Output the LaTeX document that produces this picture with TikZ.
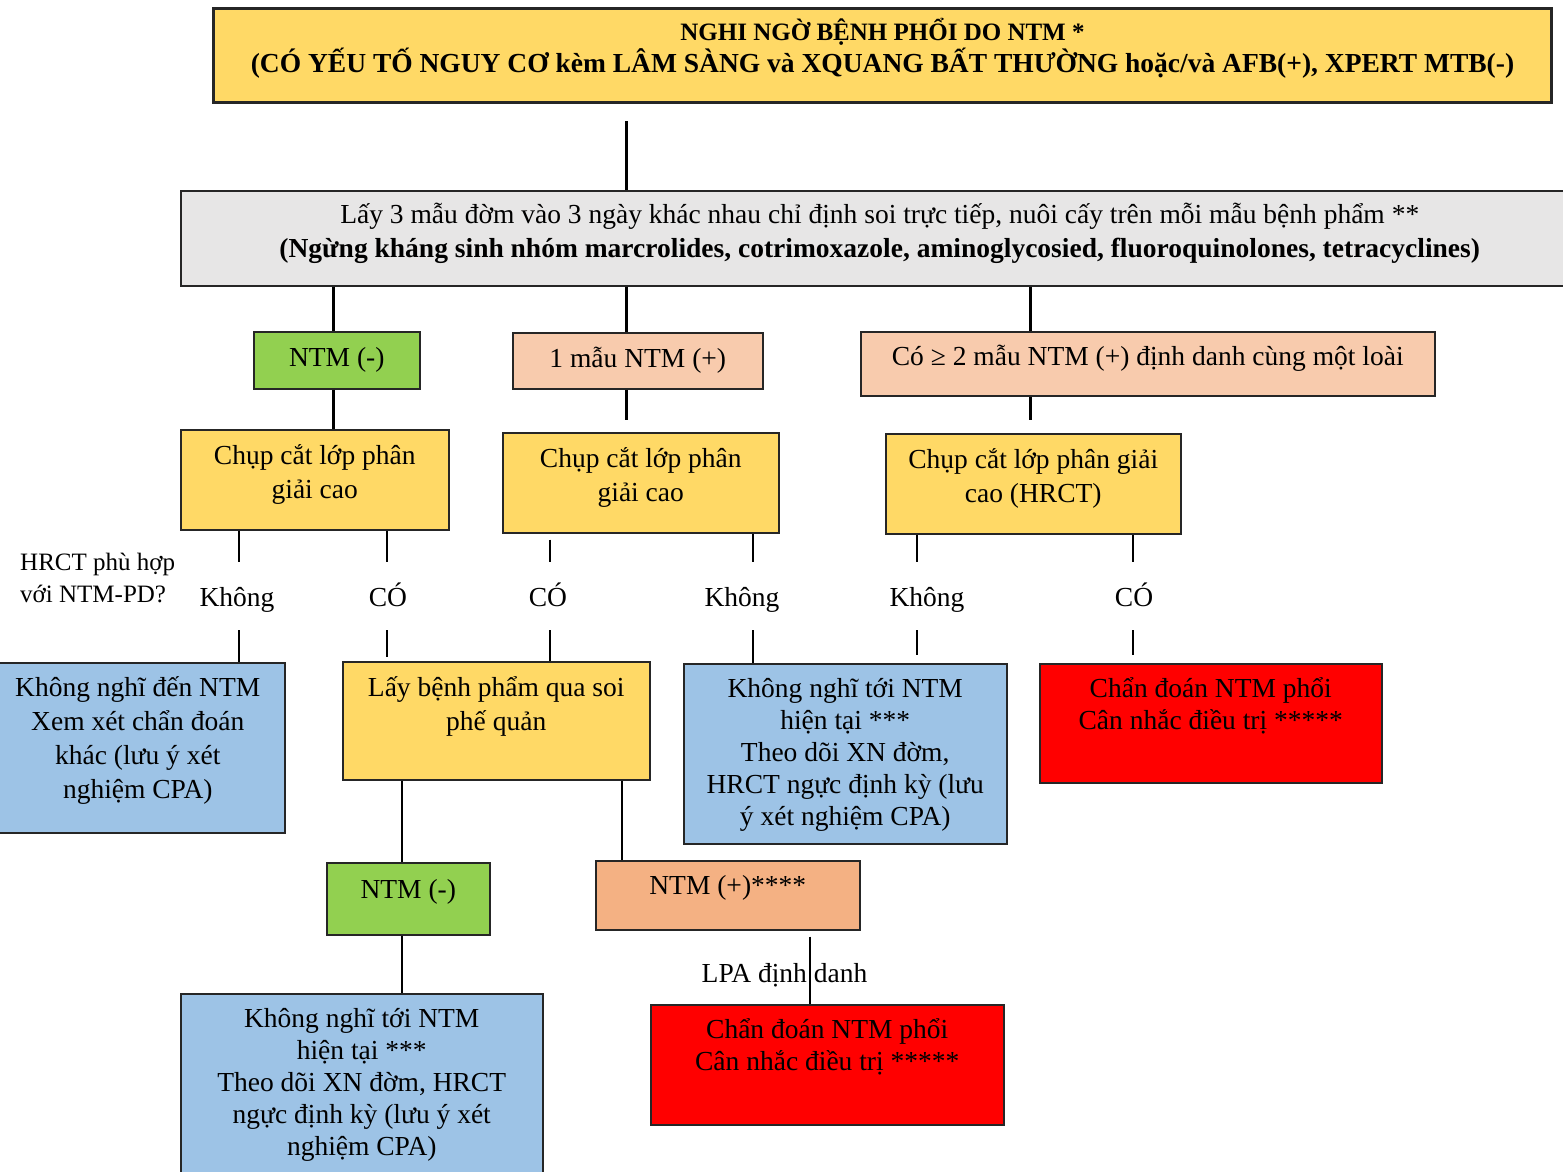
\documentclass[tikz,border=0pt]{standalone}
\usepackage{fontspec}
\setmainfont{Liberation Serif}
\usepackage{tikz}
\usetikzlibrary{positioning, calc}
\definecolor{boxFg}{RGB}{38, 38, 38}
\definecolor{yellowBoxBg}{RGB}{255, 217, 102}
\definecolor{grayBoxBg}{RGB}{231, 230, 230}
\definecolor{greenBoxBg}{RGB}{146, 208, 80}
\definecolor{peachBoxBg}{RGB}{248, 203, 173}
\definecolor{orangeBoxBg}{RGB}{244, 177, 131}
\definecolor{blueBoxBg}{RGB}{157, 195, 230}
\definecolor{redBoxBg}{RGB}{255, 0, 0}
\newcommand{\bodyFont}{\fontsize{27.5}{33}\selectfont}
\newcommand{\smallFont}{\fontsize{25}{32}\selectfont}
\tikzstyle{thickline} = [line width=3pt]
\tikzstyle{thinline} = [line width=1.2pt]
\tikzstyle{basic} = [rectangle, anchor=north west, align=center, draw=boxFg, line width=1.5pt, inner sep=2pt, text=black, font=\bodyFont]
\tikzstyle{branch} = [anchor=base, inner sep=0pt, text height=44.5pt, text depth=23.5pt, font=\bodyFont]
\tikzstyle{yellowstyle} = [fill=yellowBoxBg]
\tikzstyle{graystyle} = [fill=grayBoxBg]
\tikzstyle{greenstyle} = [fill=greenBoxBg]
\tikzstyle{peachstyle} = [fill=peachBoxBg]
\tikzstyle{orangestyle} = [fill=orangeBoxBg]
\tikzstyle{bluestyle} = [fill=blueBoxBg]
\tikzstyle{redstyle} = [fill=redBoxBg]
% width, height, text height, text depth
\tikzset{boxsize/.style n args={4}{minimum width=#1, minimum height=#2, text height=#3, text depth=#4}}
\begin{document}
\begin{tikzpicture}[x=1pt, y=-1pt]
\useasboundingbox (0,0) rectangle (1563,1172);

\coordinate (c1) at (333,0);
\coordinate (c2) at (626,0);
\coordinate (c3) at (1030,0);
\coordinate (x1) at (239,0);
\coordinate (x2) at (387,0);
\coordinate (x3) at (550,0);
\coordinate (x4) at (753,0);
\coordinate (x5) at (917,0);
\coordinate (x6) at (1133,0);
\coordinate (x7) at (402,0);
\coordinate (x8) at (622,0);
\coordinate (x9) at (810,0);

\node (susp) [basic, yellowstyle, line width=3pt, font=\fontsize{27.5}{32}\selectfont\bfseries, boxsize={1338pt}{94pt}{52pt}{19pt}] at (212,7) {{\smallFont NGHI NGỜ BỆNH PHỔI DO NTM *}\\(CÓ YẾU TỐ NGUY CƠ kèm LÂM SÀNG và XQUANG BẤT THƯỜNG hoặc/và AFB(+), XPERT MTB(-)};
\node (samples) [basic, graystyle, font=\fontsize{27.5}{34}\selectfont, boxsize={1398pt}{95pt}{54pt}{15pt}] at (180,190) {Lấy 3 mẫu đờm vào 3 ngày khác nhau chỉ định soi trực tiếp, nuôi cấy trên mỗi mẫu bệnh phẩm **\\\textbf{(Ngừng kháng sinh nhóm marcrolides, cotrimoxazole, aminoglycosied, fluoroquinolones, tetracyclines)}};

\node (neg) [basic, greenstyle, boxsize={166pt}{57pt}{20pt}{7pt}] at (253,331) {NTM (-)};
\node (one) [basic, peachstyle, boxsize={250pt}{56pt}{20pt}{6pt}] at (512,332) {1 mẫu NTM (+)};
\node (two) [basic, peachstyle, boxsize={574pt}{64pt}{20pt}{16pt}] at (860,331) {Có ≥ 2 mẫu NTM (+) định danh cùng một loài};

\node (cut1) [basic, yellowstyle, font=\fontsize{27.5}{34}\selectfont, boxsize={268pt}{100pt}{54pt}{16pt}] at (180,429) {Chụp cắt lớp phân\\giải cao};
\node (cut2) [basic, yellowstyle, font=\fontsize{27.5}{34}\selectfont, boxsize={276pt}{100pt}{54pt}{16pt}] at (502,432) {Chụp cắt lớp phân\\giải cao};
\node (cut3) [basic, yellowstyle, font=\fontsize{27.5}{34}\selectfont, boxsize={295pt}{100pt}{54pt}{16pt}] at (885,433) {Chụp cắt lớp phân giải\\cao (HRCT)};

\node (ask) [anchor=base west, align=left, inner sep=0pt, font=\smallFont] at (20,602) {HRCT phù hợp\\với NTM-PD?};
\node (k1) [branch] at (237,606.5) {Không};
\node (k2) [branch] at (388,606.5) {CÓ};
\node (k3) [branch] at (548,606.5) {CÓ};
\node (k4) [branch] at (742,606.5) {Không};
\node (k5) [branch] at (927,606.5) {Không};
\node (k6) [branch] at (1134,606.5) {CÓ};

\node (noidea) [basic, bluestyle, font=\fontsize{27.5}{34}\selectfont, boxsize={294pt}{170pt}{122pt}{20pt}] at (-10,662) {Không nghĩ đến NTM\\Xem xét chẩn đoán\\khác (lưu ý xét\\nghiệm CPA)};
\node (bronch) [basic, yellowstyle, font=\fontsize{27.5}{34}\selectfont, boxsize={307pt}{118pt}{54pt}{34pt}] at (342,661) {Lấy bệnh phẩm qua soi\\phế quản};
\node (follow1) [basic, bluestyle, font=\fontsize{27.5}{32}\selectfont, boxsize={323pt}{180pt}{148pt}{4pt}] at (683,663) {Không nghĩ tới NTM\\hiện tại ***\\Theo dõi XN đờm,\\HRCT ngực định kỳ (lưu\\ý xét nghiệm CPA)};
\node (diag1) [basic, redstyle, font=\fontsize{27.5}{32}\selectfont, boxsize={342pt}{119pt}{52pt}{40pt}] at (1039,663) {Chẩn đoán NTM phổi\\Cân nhắc điều trị *****};

\node (neg2) [basic, greenstyle, boxsize={163pt}{72pt}{20pt}{21pt}] at (326,862) {NTM (-)};
\node (pos2) [basic, orangestyle, boxsize={264pt}{69pt}{20pt}{21pt}] at (595,860) {NTM (+)****};
\node (lpa) [anchor=base, inner sep=0pt, font=\bodyFont] at (784.5,982.7) {LPA định danh};
\node (follow2) [basic, bluestyle, font=\fontsize{27.5}{32}\selectfont, boxsize={362pt}{190pt}{148pt}{15pt}] at (180,993) {Không nghĩ tới NTM\\hiện tại ***\\Theo dõi XN đờm, HRCT\\ngực định kỳ (lưu ý xét\\nghiệm CPA)};
\node (diag2) [basic, redstyle, font=\fontsize{27.5}{32}\selectfont, boxsize={353pt}{120pt}{52pt}{40pt}] at (650,1004) {Chẩn đoán NTM phổi\\Cân nhắc điều trị *****};

\draw [thickline, shorten <=17pt] (susp.south -| c2) -- (samples.north -| c2);
\draw [thickline] (samples.south -| c1) -- (neg.north -| c1);
\draw [thickline] (samples.south -| c2) -- (one.north -| c2);
\draw [thickline] (samples.south -| c3) -- (two.north -| c3);
\draw [thickline] (neg.south -| c1) -- (cut1.north -| c1);
\draw [thickline, shorten >=12pt] (one.south -| c2) -- (cut2.north -| c2);
\draw [thickline, shorten >=13pt] (two.south -| c3) -- (cut3.north -| c3);

\draw [thinline] (cut1.south -| x1) -- (k1.north -| x1);
\draw [thinline] (k1.south -| x1) -- (noidea.north -| x1);
\draw [thinline] (cut1.south -| x2) -- (k2.north -| x2);
\draw [thinline, shorten >=4pt] (k2.south -| x2) -- (bronch.north -| x2);
\draw [thinline, shorten <=6pt] (cut2.south -| x3) -- (k3.north -| x3);
\draw [thinline] (k3.south -| x3) -- (bronch.north -| x3);
\draw [thinline] (cut2.south -| x4) -- (k4.north -| x4);
\draw [thinline] (k4.south -| x4) -- (follow1.north -| x4);
\draw [thinline] (cut3.south -| x5) -- (k5.north -| x5);
\draw [thinline, shorten >=8pt] (k5.south -| x5) -- (follow1.north -| x5);
\draw [thinline] (cut3.south -| x6) -- (k6.north -| x6);
\draw [thinline, shorten >=8pt] (k6.south -| x6) -- (diag1.north -| x6);

\draw [thinline] (bronch.south -| x7) -- (neg2.north -| x7);
\draw [thinline] (bronch.south -| x8) -- (pos2.north -| x8);
\draw [thinline] (neg2.south -| x7) -- (follow2.north -| x7);
\draw [thinline, shorten <=6pt] (pos2.south -| x9) -- (diag2.north -| x9);

\end{tikzpicture}
\end{document}
